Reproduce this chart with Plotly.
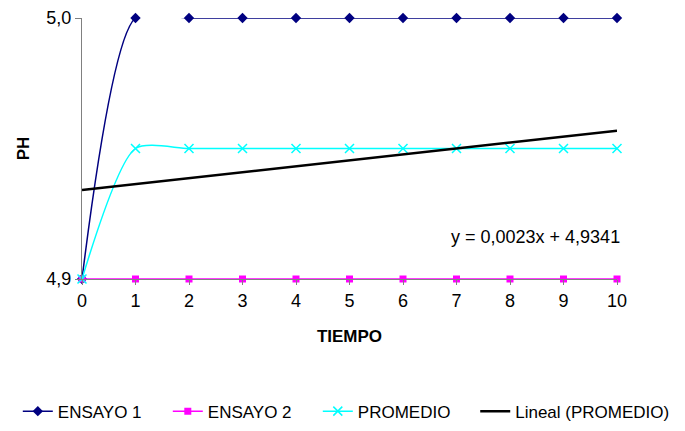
import numpy as np
import plotly.graph_objects as go

tiempo = list(range(0, 11))
ensayo_1 = [4.9, 5.0, 5.0, 5.0, 5.0, 5.0, 5.0, 5.0, 5.0, 5.0, 5.0]
ensayo_2 = [4.9, 4.9, 4.9, 4.9, 4.9, 4.9, 4.9, 4.9, 4.9, 4.9, 4.9]
promedio = [4.9, 4.95, 4.95, 4.95, 4.95, 4.95, 4.95, 4.95, 4.95, 4.95, 4.95]
y_ticks = [4.9, 5.0]
y_ticktext = ["4,9", "5,0"]

C_NAVY = "#000080"
C_MAGENTA = "#FF00FF"
C_CYAN = "#00FFFF"
C_GRAY = "#808080"

slope, intercept = np.polyfit(tiempo, promedio, 1)
trend = [slope * x + intercept for x in tiempo]
eq_text = f"y = {slope:.4f}x + {intercept:.4f}".replace(".", ",")

fig = go.Figure()
fig.add_trace(go.Scatter(
    x=tiempo, y=ensayo_1, name="ENSAYO 1", mode="lines+markers",
    line=dict(color=C_NAVY, width=1.5, shape="spline", smoothing=0.7),
    marker=dict(symbol="diamond", size=8, color=C_NAVY), cliponaxis=False,
))
fig.add_trace(go.Scatter(
    x=tiempo, y=ensayo_2, name="ENSAYO 2", mode="lines+markers",
    line=dict(color=C_MAGENTA, width=1.5, shape="spline", smoothing=0.7),
    marker=dict(symbol="square", size=7, color=C_MAGENTA), cliponaxis=False,
))
fig.add_trace(go.Scatter(
    x=tiempo, y=promedio, name="PROMEDIO", mode="lines+markers",
    line=dict(color=C_CYAN, width=1.5, shape="spline", smoothing=0.7),
    marker=dict(symbol="x-thin-open", size=9, color=C_CYAN,
                line=dict(color=C_CYAN, width=1.5)), cliponaxis=False,
))
fig.add_trace(go.Scatter(
    x=tiempo, y=trend, name="Lineal (PROMEDIO)", mode="lines",
    line=dict(color="black", width=2.5), legend="legend2",
))
fig.add_annotation(
    x=10, y=0.16, xref="x", yref="paper", text=eq_text,
    showarrow=False, xanchor="right", yanchor="middle", xshift=5,
    font=dict(size=18, color="black"),
)

_LEG = dict(orientation="h", xanchor="left", yanchor="middle", y=-0.508,
            font=dict(size=17), traceorder="normal")

fig.update_layout(
    width=685, height=431,
    paper_bgcolor="white", plot_bgcolor="white",
    font=dict(family="Liberation Sans, Arial, sans-serif", color="black"),
    margin=dict(l=74, r=76, t=10, b=160, autoexpand=False),
    showlegend=True,
    legend=dict(x=-0.12, entrywidth=105, **_LEG),
    legend2=dict(x=0.735, **_LEG),
    xaxis=dict(
        range=[0, 10], tickvals=tiempo, showgrid=False, zeroline=False,
        showline=True, linecolor=C_GRAY, ticks="outside", ticklen=5, tickcolor=C_GRAY,
        tickfont=dict(size=18), automargin=False,
        title=dict(text="<b>TIEMPO</b>", font=dict(size=17), standoff=20),
    ),
    yaxis=dict(
        range=[4.9, 5.0], tickvals=y_ticks, ticktext=y_ticktext, showgrid=False,
        zeroline=False, showline=True, linecolor=C_GRAY, ticks="outside",
        ticklen=6, tickcolor=C_GRAY, tickfont=dict(size=18), automargin=False,
        title=dict(text="<b>PH</b>", font=dict(size=17), standoff=12),
    ),
)
fig.write_html("out.html")
